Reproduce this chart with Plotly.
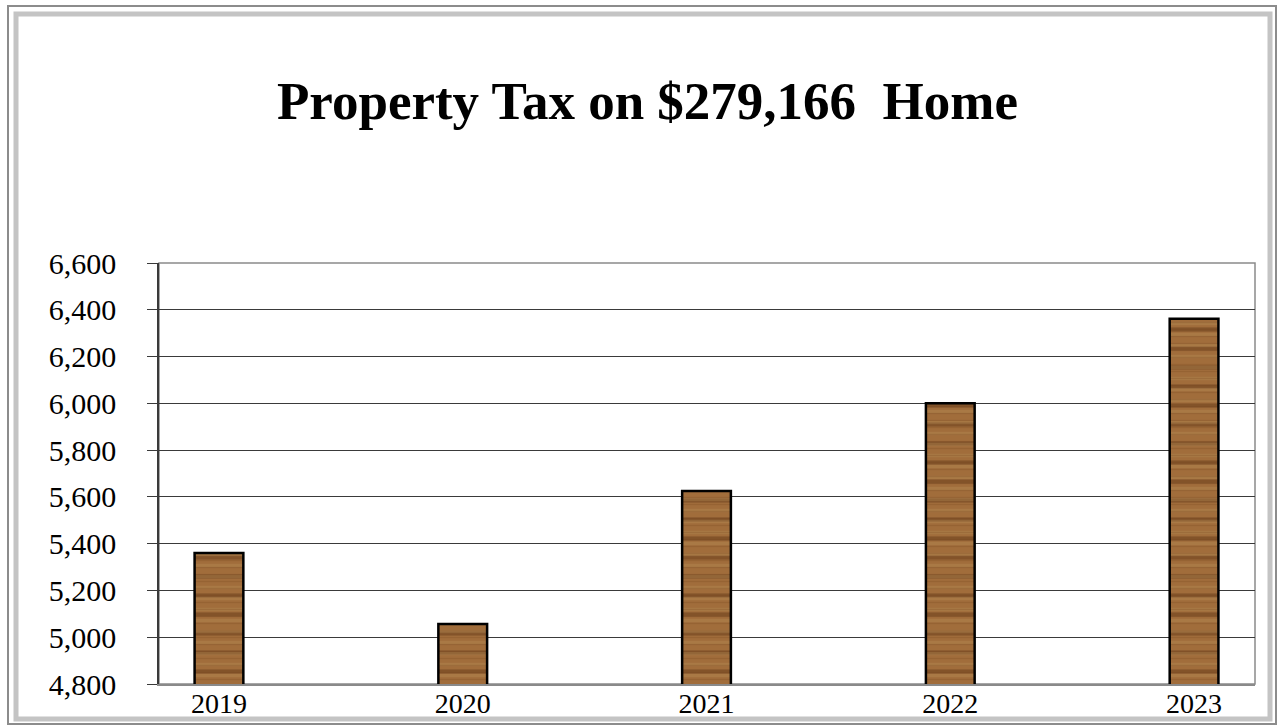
import plotly.graph_objects as go

years = ["2019", "2020", "2021", "2022", "2023"]
tax = [5360, 5056, 5625, 6000, 6362]
y_ticks = [4800, 5000, 5200, 5400, 5600, 5800, 6000, 6200, 6400, 6600]
y_tick_text = ["4,800", "5,000", "5,200", "5,400", "5,600", "5,800", "6,000", "6,200", "6,400", "6,600"]
title_text = "Property Tax on $279,166  Home"

W, H = 1279, 727
L, R, T, B = 159, 1255, 263, 684


def px(x):
    return (x - L) / (R - L)


def py(y):
    return (B - y) / (B - T)


fig = go.Figure()
# wood-like fill built from overlaid stripe patterns
fig.add_trace(go.Bar(
    x=years, y=tax, base=0, width=0.2,
    marker=dict(color="#a16d3b", line=dict(width=0)),
    hoverinfo="skip",
))
fig.add_trace(go.Bar(
    x=years, y=tax, base=0, width=0.2,
    marker=dict(color="rgba(0,0,0,0)", line=dict(width=0),
                pattern=dict(shape="-", fgcolor="rgba(85,45,14,0.8)", bgcolor="rgba(0,0,0,0)",
                             size=19, solidity=0.22, fillmode="overlay")),
    hoverinfo="skip",
))
fig.add_trace(go.Bar(
    x=years, y=tax, base=0, width=0.2,
    marker=dict(color="rgba(0,0,0,0)", line=dict(width=0),
                pattern=dict(shape="-", fgcolor="rgba(190,150,95,0.55)", bgcolor="rgba(0,0,0,0)",
                             size=11, solidity=0.3, fillmode="overlay")),
    hoverinfo="skip",
))
fig.add_trace(go.Bar(
    x=years, y=tax, base=0, width=0.2,
    marker=dict(color="rgba(0,0,0,0)", line=dict(color="black", width=2.5),
                pattern=dict(shape="-", fgcolor="rgba(115,65,25,0.5)", bgcolor="rgba(0,0,0,0)",
                             size=7, solidity=0.2, fillmode="overlay")),
    hoverinfo="x+y",
))

shapes = [
    dict(type="rect", xref="paper", yref="paper", x0=px(8), x1=px(1276), y0=py(6), y1=py(724),
         line=dict(color="#8c8c8c", width=2), fillcolor="rgba(0,0,0,0)", layer="below"),
    dict(type="rect", xref="paper", yref="paper", x0=px(16), x1=px(1270), y0=py(14), y1=py(719),
         line=dict(color="#c4c4c4", width=5), fillcolor="rgba(0,0,0,0)", layer="below"),
    dict(type="rect", xref="paper", yref="paper", x0=0, x1=1, y0=0, y1=1,
         line=dict(color="#8a8a8a", width=1.5), fillcolor="rgba(0,0,0,0)", layer="below"),
]

fig.update_layout(
    width=W, height=H, autosize=False,
    margin=dict(l=L, r=W - R, t=T, b=H - B, pad=0, autoexpand=False),
    paper_bgcolor="white", plot_bgcolor="white",
    showlegend=False,
    shapes=shapes,
    barmode="overlay",
    font=dict(family="Liberation Serif, Times New Roman, serif", color="black"),
    title=dict(text="<b>" + title_text + "</b>", x=(275 + 1020) / 2 / W, xanchor="center",
               y=1 - 100 / H, yanchor="middle", automargin=False,
               font=dict(size=53, family="Liberation Serif, Times New Roman, serif", color="black")),
)

fig.update_xaxes(
    range=[-0.246, 4.25], automargin=False,
    showgrid=False, showline=True, linecolor="#8a8a8a", linewidth=1.5,
    ticks="", tickfont=dict(size=28), ticklabelstandoff=-6,
)
fig.update_yaxes(
    range=[4800, 6600], automargin=False,
    tickvals=y_ticks, ticktext=y_tick_text,
    showgrid=True, gridcolor="#3a3a3a", gridwidth=1.2,
    showline=True, linecolor="#3a3a3a", linewidth=1.5,
    ticks="outside", ticklen=10, tickcolor="#3a3a3a", tickwidth=1.2,
    tickfont=dict(size=30), ticklabelstandoff=25,
    zeroline=False,
)

fig.write_html(
    "out.html",
    config={"responsive": False, "displayModeBar": False},
    post_script="document.body.style.margin='0';document.body.style.overflow='hidden';",
)
